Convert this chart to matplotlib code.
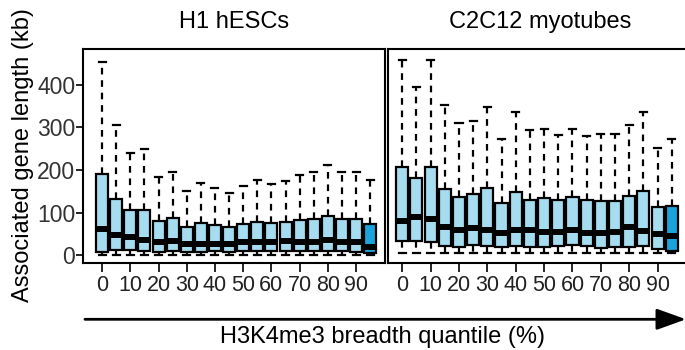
import numpy as np
import matplotlib
matplotlib.use("Agg")
import matplotlib.pyplot as plt

plt.rcParams['font.family'] = ['Liberation Sans', 'DejaVu Sans']

quantiles = list(range(0, 100, 5))
tick_labels = ['0', '10', '20', '30', '40', '50', '60', '70', '80', '90']

# H1 hESCs (kb)
h1_lo = [0, 0, 0, 0, 0, 0, 0, 0, 0, 0, 0, 0, 0, 0, 0, 0, 0, 0, 0, 0]
h1_q1 = [8, 12, 12, 10, 8, 11, 7, 7, 9, 7, 10, 10, 9, 9, 9, 9, 9, 9, 8, 4]
h1_med = [61, 48, 42, 36, 30, 34, 27, 27, 27, 27, 32, 32, 30, 33, 30, 31, 35, 31, 31, 19]
h1_q3 = [190, 131, 105, 106, 80, 87, 66, 75, 70, 66, 73, 78, 75, 77, 82, 85, 92, 84, 84, 73]
h1_hi = [454, 305, 239, 248, 183, 196, 151, 169, 158, 147, 162, 177, 167, 175, 187, 196, 212, 195, 195, 177]

# C2C12 myotubes (kb)
c2_lo = [4, 4, 4, 4, 4, 4, 4, 4, 4, 4, 4, 4, 4, 4, 4, 4, 4, 4, 4, 4]
c2_q1 = [34, 33, 30, 22, 20, 24, 22, 20, 22, 19, 19, 22, 24, 22, 17, 20, 20, 22, 15, 10]
c2_med = [80, 90, 85, 66, 59, 63, 58, 52, 59, 59, 55, 55, 58, 53, 51, 54, 66, 56, 50, 44]
c2_q3 = [208, 180, 206, 155, 137, 143, 157, 122, 149, 130, 135, 130, 136, 130, 127, 127, 140, 151, 114, 115]
c2_hi = [458, 395, 458, 352, 311, 315, 348, 272, 336, 294, 295, 282, 295, 280, 284, 284, 305, 336, 251, 272]

light = '#A6DCEF'
dark = '#1BA3DC'


def make_stats(lo, q1, med, q3, hi):
    return [dict(whislo=a, q1=b, med=c, q3=d, whishi=e, fliers=[])
            for a, b, c, d, e in zip(lo, q1, med, q3, hi)]


def draw_panel(ax, stats):
    pos = np.arange(len(stats))
    bp = ax.bxp(stats, positions=pos, widths=0.85, capwidths=0.5,
                patch_artist=True, showfliers=False,
                boxprops=dict(edgecolor='black', linewidth=1.6),
                medianprops=dict(color='black', linewidth=4.3, solid_capstyle='butt'),
                whiskerprops=dict(color='black', linewidth=1.6, linestyle=(0, (3, 2.6))),
                capprops=dict(color='black', linewidth=1.6))
    for i, b in enumerate(bp['boxes']):
        b.set_facecolor(dark if i == len(stats) - 1 else light)
    ax.set_ylim(-19, 483)
    ax.set_xticks(pos[::2])
    ax.set_xticklabels(tick_labels)
    ax.tick_params(axis='x', length=6.5, width=1.2, pad=2, labelsize=15.5,
                   labelcolor='#222222')
    for s in ax.spines.values():
        s.set_linewidth(1.5)


fig = plt.figure(figsize=(6.85, 3.5), dpi=100)
ax1 = fig.add_axes([83.3 / 685, 1 - 263.3 / 350, 301.7 / 685, 214 / 350])
ax2 = fig.add_axes([388.3 / 685, 1 - 263.3 / 350, 298.4 / 685, 214 / 350])

draw_panel(ax1, make_stats(h1_lo, h1_q1, h1_med, h1_q3, h1_hi))
draw_panel(ax2, make_stats(c2_lo, c2_q1, c2_med, c2_q3, c2_hi))

ax1.set_xlim(-1.33, 20.05)
ax2.set_xlim(-0.98, 20.05)

ax1.set_yticks([0, 100, 200, 300, 400])
ax1.tick_params(axis='y', length=4.8, width=1.2, pad=1, labelsize=16.5,
                labelcolor='#333333')
ax2.set_yticks([])

fig.text(234 / 685, 1 - 22 / 350, 'H1 hESCs', fontsize=17, ha='center', va='center')
fig.text(540 / 685, 1 - 22 / 350, 'C2C12 myotubes', fontsize=17, ha='center', va='center')
fig.text(23 / 685, 1 - 155 / 350, 'Associated gene length (kb)', fontsize=17,
         rotation=90, ha='center', va='center')

# arrow under the axes
ax1.annotate('', xy=(686 / 685, 1 - 319.3 / 350), xytext=(85 / 685, 1 - 319.3 / 350),
             xycoords='figure fraction', textcoords='figure fraction',
             arrowprops=dict(arrowstyle='-|>,head_length=1.0,head_width=0.36',
                             color='black', lw=2, shrinkA=0, shrinkB=0,
                             mutation_scale=18),
             annotation_clip=False)
fig.text(383 / 685, 1 - 337 / 350, 'H3K4me3 breadth quantile (%)', fontsize=17,
         ha='center', va='center')

fig.savefig('out.png', dpi=100)
